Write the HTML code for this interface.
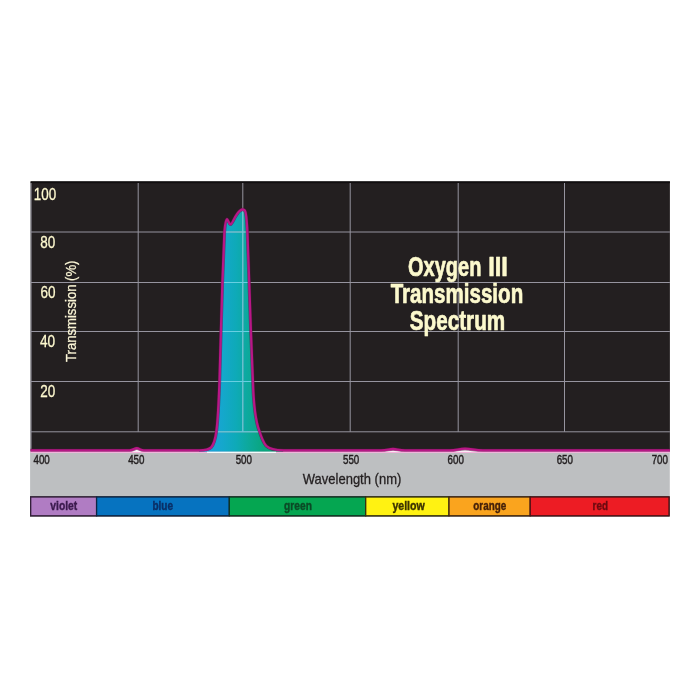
<!DOCTYPE html>
<html>
<head>
<meta charset="utf-8">
<title>Oxygen III Transmission Spectrum</title>
<style>
html,body{margin:0;padding:0;background:#ffffff;}
body{width:700px;height:700px;overflow:hidden;font-family:"Liberation Sans",sans-serif;}
svg{display:block;will-change:transform;transform:translateZ(0);}
text{font-family:"Liberation Sans",sans-serif;}
</style>
</head>
<body>
<svg width="700" height="700" viewBox="0 0 700 700">
  <defs>
    <linearGradient id="pk" x1="208" y1="0" x2="264" y2="0" gradientUnits="userSpaceOnUse">
      <stop offset="0" stop-color="#1da2d9"/>
      <stop offset="0.25" stop-color="#15a7cd"/>
      <stop offset="0.5" stop-color="#0eaab8"/>
      <stop offset="0.714" stop-color="#0da99c"/>
      <stop offset="1" stop-color="#09a57c"/>
    </linearGradient>
    <clipPath id="pkclip"><path d="M199,450.4 C206.5,450.3 209.2,449.4 211.1,447.4 C214.1,444 215.5,438 216.4,431 C217.9,420 218.8,400 219.5,381 L220.9,331.5 L222.4,282.5 L224.4,232 C225.0,224.5 225.9,219.6 226.9,219.2 C228.1,219.6 229.1,224 230.5,224.4 C232.5,224 235.0,214.5 240.0,210.6 C241.7,209.4 243.7,209.2 244.9,210.6 C246.5,213 247.0,224 247.4,232 L249.2,282.5 L250.9,331.5 L252.9,381 C253.5,402 255.1,420 259.4,431 C261.1,436.5 263.1,442 266.1,445.8 C269.3,449 274.5,450.2 283.5,450.4 L283,452 L199,452 Z"/></clipPath>
  </defs>
  <rect x="0" y="0" width="700" height="700" fill="#ffffff"/>
  <!-- gray axis band -->
  <rect x="30.1" y="452" width="639.7" height="45.5" fill="#bdbfc1"/>
  <!-- black plot area -->
  <rect x="30.6" y="181.4" width="639.3" height="270.1" fill="#231f20"/>
  <rect x="30.6" y="181.4" width="639.3" height="1.8" fill="#100e0f"/>

  <!-- white under curve -->
  <path fill="#ffffff" d="M30.5,450.4 L129.5,450.4 C133,450.4 134.4,448.2 136.8,448.2 C139.2,448.2 140.6,450.4 144,450.4 L199,450.4 C206.5,450.3 209.2,449.4 211.1,447.4 C214.1,444 215.5,438 216.4,431 C217.9,420 218.8,400 219.5,381 L220.9,331.5 L222.4,282.5 L224.4,232 C225.0,224.5 225.9,219.6 226.9,219.2 C228.1,219.6 229.1,224 230.5,224.4 C232.5,224 235.0,214.5 240.0,210.6 C241.7,209.4 243.7,209.2 244.9,210.6 C246.5,213 247.0,224 247.4,232 L249.2,282.5 L250.9,331.5 L252.9,381 C253.5,402 255.1,420 259.4,431 C261.1,436.5 263.1,442 266.1,445.8 C269.3,449 274.5,450.2 283.5,450.4 L381,450.4 C387,450.4 389,449 393,449 C397,449 399,450.4 405,450.4 L450,450.4 C456,450.4 459,448.7 465,448.7 C471,448.7 475,450.4 483,450.4 L669.9,450.4 L669.5,452 L30.5,452 Z"/>

  <!-- curve fill -->
  <path fill="url(#pk)" d="M199,450.4 C206.5,450.3 209.2,449.4 211.1,447.4 C214.1,444 215.5,438 216.4,431 C217.9,420 218.8,400 219.5,381 L220.9,331.5 L222.4,282.5 L224.4,232 C225.0,224.5 225.9,219.6 226.9,219.2 C228.1,219.6 229.1,224 230.5,224.4 C232.5,224 235.0,214.5 240.0,210.6 C241.7,209.4 243.7,209.2 244.9,210.6 C246.5,213 247.0,224 247.4,232 L249.2,282.5 L250.9,331.5 L252.9,381 C253.5,402 255.1,420 259.4,431 C261.1,436.5 263.1,442 266.1,445.8 C269.3,449 274.5,450.2 283.5,450.4 L283,452 L199,452 Z"/>

  <!-- grid -->
  <g stroke="#96949f" stroke-width="1" fill="none">
    <line x1="30.5" y1="232" x2="669.9" y2="232"/>
    <line x1="30.5" y1="282.5" x2="669.9" y2="282.5"/>
    <line x1="30.5" y1="331.5" x2="669.9" y2="331.5"/>
    <line x1="30.5" y1="381.5" x2="669.9" y2="381.5"/>
    <line x1="30.5" y1="431.8" x2="669.9" y2="431.8"/>
    <line x1="31.1" y1="183" x2="31.1" y2="449" stroke-width="0.9"/>
    <line x1="138.2" y1="183" x2="138.2" y2="431.8"/>
    <line x1="242.8" y1="183" x2="242.8" y2="431.8"/>
    <line x1="350.2" y1="183" x2="350.2" y2="431.8"/>
    <line x1="458.2" y1="183" x2="458.2" y2="431.8"/>
    <line x1="564.5" y1="183" x2="564.5" y2="431.8"/>
  </g>

  <g clip-path="url(#pkclip)" stroke="#66cfe2" stroke-width="1" fill="none">
    <line x1="200" y1="232" x2="290" y2="232"/>
    <line x1="200" y1="282.5" x2="290" y2="282.5"/>
    <line x1="200" y1="331.5" x2="290" y2="331.5"/>
    <line x1="200" y1="381.5" x2="290" y2="381.5"/>
    <line x1="200" y1="431.8" x2="290" y2="431.8"/>
    <line x1="242.8" y1="183" x2="242.8" y2="431.8"/>
  </g>

  <path fill="none" stroke="#5c1046" stroke-opacity="0.6" stroke-width="3.4" stroke-linejoin="round" d="M30.5,450.4 L129.5,450.4 C133,450.4 134.4,448.2 136.8,448.2 C139.2,448.2 140.6,450.4 144,450.4 L199,450.4 C206.5,450.3 209.2,449.4 211.1,447.4 C214.1,444 215.5,438 216.4,431 C217.9,420 218.8,400 219.5,381 L220.9,331.5 L222.4,282.5 L224.4,232 C225.0,224.5 225.9,219.6 226.9,219.2 C228.1,219.6 229.1,224 230.5,224.4 C232.5,224 235.0,214.5 240.0,210.6 C241.7,209.4 243.7,209.2 244.9,210.6 C246.5,213 247.0,224 247.4,232 L249.2,282.5 L250.9,331.5 L252.9,381 C253.5,402 255.1,420 259.4,431 C261.1,436.5 263.1,442 266.1,445.8 C269.3,449 274.5,450.2 283.5,450.4 L381,450.4 C387,450.4 389,449 393,449 C397,449 399,450.4 405,450.4 L450,450.4 C456,450.4 459,448.7 465,448.7 C471,448.7 475,450.4 483,450.4 L669.9,450.4"/>
  <!-- pale line under baseline -->
  <path fill="none" stroke="#f2b4dc" stroke-width="1.2" d="M30.5,452.3 L669.8,452.3"/>
  <path fill="none" stroke="#f4fbfb" stroke-width="1.2" d="M207,452.3 L276,452.3"/>
  <!-- curve line -->
  <path fill="none" stroke="#b81786" stroke-width="2.3" stroke-linejoin="round" d="M30.5,450.4 L129.5,450.4 C133,450.4 134.4,448.2 136.8,448.2 C139.2,448.2 140.6,450.4 144,450.4 L199,450.4 C206.5,450.3 209.2,449.4 211.1,447.4 C214.1,444 215.5,438 216.4,431 C217.9,420 218.8,400 219.5,381 L220.9,331.5 L222.4,282.5 L224.4,232 C225.0,224.5 225.9,219.6 226.9,219.2 C228.1,219.6 229.1,224 230.5,224.4 C232.5,224 235.0,214.5 240.0,210.6 C241.7,209.4 243.7,209.2 244.9,210.6 C246.5,213 247.0,224 247.4,232 L249.2,282.5 L250.9,331.5 L252.9,381 C253.5,402 255.1,420 259.4,431 C261.1,436.5 263.1,442 266.1,445.8 C269.3,449 274.5,450.2 283.5,450.4 L381,450.4 C387,450.4 389,449 393,449 C397,449 399,450.4 405,450.4 L450,450.4 C456,450.4 459,448.7 465,448.7 C471,448.7 475,450.4 483,450.4 L669.9,450.4"/>

  <!-- y labels -->
  <g fill="#fffad0" stroke="#fffad0" stroke-width="0.3" font-size="17.3">
    <text x="33.8" y="199.6" textLength="22.4" lengthAdjust="spacingAndGlyphs">100</text>
    <text x="40.2" y="247.6" textLength="15" lengthAdjust="spacingAndGlyphs">80</text>
    <text x="40.4" y="298" textLength="15" lengthAdjust="spacingAndGlyphs">60</text>
    <text x="40" y="347.1" textLength="15.2" lengthAdjust="spacingAndGlyphs">40</text>
    <text x="40.2" y="397.1" textLength="15" lengthAdjust="spacingAndGlyphs">20</text>
  </g>
  <text transform="translate(76.3,362) rotate(-90)" fill="#fbf6d6" stroke="#fbf6d6" stroke-width="0.25" font-size="15" textLength="101.5" lengthAdjust="spacingAndGlyphs">Transmission (%)</text>

  <!-- title -->
  <g fill="#fcf9cd" stroke="#fcf9cd" stroke-width="0.7" stroke-linejoin="round" font-size="27" font-weight="bold">
    <text x="408" y="276" textLength="73.4" lengthAdjust="spacingAndGlyphs">Oxygen</text>
    <text x="488.2" y="276" textLength="19.6" lengthAdjust="spacingAndGlyphs">III</text>
    <text x="390.7" y="303.2" textLength="132.5" lengthAdjust="spacingAndGlyphs">Transmission</text>
    <text x="409.8" y="330.2" textLength="95.4" lengthAdjust="spacingAndGlyphs">Spectrum</text>
  </g>

  <!-- x labels -->
  <g fill="#231f20" stroke="#231f20" stroke-width="0.45" font-size="12.3">
    <text x="33.5" y="464.4" textLength="16.3" lengthAdjust="spacingAndGlyphs">400</text>
    <text x="128.2" y="464.4" textLength="16.3" lengthAdjust="spacingAndGlyphs">450</text>
    <text x="235.7" y="464.4" textLength="16.3" lengthAdjust="spacingAndGlyphs">500</text>
    <text x="343" y="464.4" textLength="16.3" lengthAdjust="spacingAndGlyphs">550</text>
    <text x="447.6" y="464.4" textLength="16.3" lengthAdjust="spacingAndGlyphs">600</text>
    <text x="556.7" y="464.4" textLength="16.3" lengthAdjust="spacingAndGlyphs">650</text>
    <text x="651.7" y="464.4" textLength="16.3" lengthAdjust="spacingAndGlyphs">700</text>
  </g>
  <text x="302.8" y="484.3" fill="#231f20" stroke="#231f20" stroke-width="0.3" font-size="14.4" textLength="98.5" lengthAdjust="spacingAndGlyphs">Wavelength (nm)</text>

  <!-- colour bar -->
  <rect x="30.7" y="497" width="638.3" height="18.8" fill="#231f20" stroke="#231f20" stroke-width="1.4"/>
  <g stroke-width="1.3">
    <rect x="30.7" y="497" width="65.9" height="18.8" fill="#b07cc3" stroke="#33203a"/>
    <rect x="96.6" y="497" width="132.7" height="18.8" fill="#0673c0" stroke="#0c2545"/>
    <rect x="229.3" y="497" width="136.4" height="18.8" fill="#05a651" stroke="#0f3220"/>
    <rect x="365.7" y="497" width="83.3" height="18.8" fill="#fff212" stroke="#33300f"/>
    <rect x="449" y="497" width="81.2" height="18.8" fill="#faa41e" stroke="#40260f"/>
    <rect x="530.2" y="497" width="138.8" height="18.8" fill="#ed1c24" stroke="#4a1115"/>
  </g>
  <g font-size="12.6" font-weight="bold" stroke-width="0.4">
    <text x="50.3" y="510.1" fill="#3b1a4e" stroke="#3b1a4e" textLength="27" lengthAdjust="spacingAndGlyphs">violet</text>
    <text x="152.4" y="510.1" fill="#0a2f66" stroke="#0a2f66" textLength="20.6" lengthAdjust="spacingAndGlyphs">blue</text>
    <text x="284.1" y="510.1" fill="#0b4a26" stroke="#0b4a26" textLength="27.8" lengthAdjust="spacingAndGlyphs">green</text>
    <text x="392.4" y="510.1" fill="#3d3300" stroke="#3d3300" textLength="32.3" lengthAdjust="spacingAndGlyphs">yellow</text>
    <text x="473.3" y="510.1" fill="#45200a" stroke="#45200a" textLength="32.9" lengthAdjust="spacingAndGlyphs">orange</text>
    <text x="592.6" y="510.1" fill="#6d0a10" stroke="#6d0a10" textLength="15.4" lengthAdjust="spacingAndGlyphs">red</text>
  </g>
</svg>
</body>
</html>
